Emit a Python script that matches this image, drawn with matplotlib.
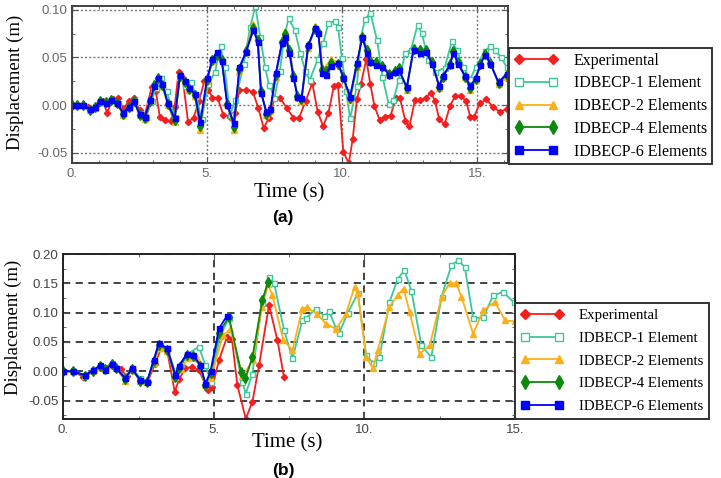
import matplotlib
matplotlib.use('Agg')
import matplotlib.pyplot as plt
from matplotlib.ticker import FixedLocator, MultipleLocator

# ---------------- panel (a) data ----------------
t_a_exp = [0, 0.2, 0.4, 0.6, 0.8, 1.0, 1.15, 1.3, 1.5, 1.7,
           1.9, 2.1, 2.3, 2.5, 2.7, 2.95, 3.1, 3.25, 3.45, 3.65,
           3.8, 3.95, 4.1, 4.3, 4.5, 4.7, 4.9, 5.05, 5.2, 5.4,
           5.6, 5.85, 6.05, 6.2, 6.45, 6.7, 6.9, 7.1, 7.3, 7.5,
           7.7, 7.95, 8.2, 8.4, 8.65, 8.9, 9.1, 9.3, 9.5, 9.7,
           9.85, 10.05, 10.25, 10.4, 10.55, 10.7, 10.9, 11.05, 11.2, 11.4,
           11.6, 11.8, 12.0, 12.15, 12.35, 12.5, 12.7, 12.9, 13.1, 13.3,
           13.45, 13.6, 13.8, 14.0, 14.2, 14.4, 14.6, 14.75, 14.9, 15.1,
           15.35, 15.6, 15.85, 16.1]
d_a_exp = [0, 0, 0, -0.002, -0.003, 0.002, 0.004, -0.008, 0.006, 0.007,
           -0.004, 0.004, 0.007, -0.005, -0.010, 0.019, 0.015, -0.012, -0.016, -0.017,
           -0.002, 0.035, 0.028, -0.018, -0.013, 0.004, 0.025, 0.016, 0.008, 0.007,
           -0.010, -0.012, -0.008, 0.016, 0.016, 0.014, -0.003, -0.024, -0.013, 0.007,
           0.008, -0.003, -0.013, -0.014, 0.004, 0.023, -0.007, -0.022, -0.008, 0.020,
           0.021, -0.049, -0.061, -0.035, 0.006, 0.022, 0.048, 0.022, -0.001, -0.016,
           -0.012, -0.011, 0.008, 0.007, -0.017, -0.022, 0.005, 0.005, 0.008, 0.013,
           0.004, -0.015, -0.020, -0.001, 0.010, 0.010, 0.004, -0.012, -0.012, 0.002,
           0.006, -0.002, -0.007, -0.004]

t_a_1el = [0, 0.2, 0.4, 0.65, 0.85, 1.05, 1.25, 1.45, 1.7, 1.9,
           2.1, 2.3, 2.5, 2.75, 2.95, 3.1, 3.3, 3.5, 3.8, 4.0,
           4.2, 4.4, 4.6, 4.8, 5.05, 5.3, 5.5, 5.65, 5.86, 6.05,
           6.36, 6.6, 6.79, 6.97, 7.15, 7.3, 7.5, 7.7, 7.85, 8.02,
           8.25, 8.45, 8.64, 8.8, 9.1, 9.3, 9.5, 9.75, 9.85, 10.0,
           10.15, 10.3, 10.55, 10.7, 10.85, 11.05, 11.3, 11.5, 11.73, 11.9,
           12.1, 12.35, 12.55, 12.8, 12.95, 13.2, 13.45, 13.8, 14.07, 14.25,
           14.5, 14.75, 14.95, 15.3, 15.5, 15.65, 15.9, 16.1]
d_a_1el = [0, 0, 0, -0.004, -0.002, 0.004, 0.003, 0.005, 0.002, -0.008,
           -0.002, 0.005, -0.008, -0.012, 0.004, 0.018, 0.028, 0.015, -0.012, 0.030,
           0.020, 0.024, 0.010, -0.015, 0.022, 0.035, 0.062, 0.040, -0.010, 0.005,
           0.043, 0.082, 0.104, 0.072, 0.040, 0.021, 0.008, 0.036, 0.070, 0.091,
           0.079, 0.055, 0.036, 0.026, 0.048, 0.065, 0.086, 0.088, 0.082, 0.049,
           0.015, -0.014, 0.020, 0.071, 0.090, 0.097, 0.068, 0.030, 0.001, 0.005,
           0.026, 0.055, 0.058, 0.084, 0.076, 0.047, 0.035, 0.039, 0.067, 0.058,
           0.040, 0.027, 0.040, 0.057, 0.062, 0.058, 0.050, 0.040]

t_a_mod = [0, 0.2, 0.4, 0.65, 0.85, 1.05, 1.25, 1.45, 1.65, 1.9,
           2.1, 2.3, 2.5, 2.7, 2.9, 3.05, 3.2, 3.35, 3.55, 3.8,
           4.0, 4.2, 4.35, 4.55, 4.75, 5.0, 5.2, 5.37, 5.55, 5.75,
           6.0, 6.2, 6.45, 6.72, 6.88, 7.0, 7.2, 7.35, 7.55, 7.78,
           7.9, 8.05, 8.2, 8.35, 8.5, 8.75, 9.0, 9.12, 9.27, 9.4,
           9.58, 9.85, 10.05, 10.3, 10.55, 10.75, 10.92, 11.05, 11.25, 11.5,
           11.75, 11.95, 12.1, 12.4, 12.65, 12.9, 13.1, 13.35, 13.6, 13.75,
           14.0, 14.13, 14.3, 14.55, 14.75, 14.95, 15.12, 15.3, 15.5, 15.8,
           16.1]
d_a_2el = [0, 0, 0, -0.005, -0.003, 0.004, 0.003, 0.006, 0.002, -0.010,
           -0.003, 0.004, -0.010, -0.015, 0.004, 0.020, 0.027, 0.020, 0.0, -0.018,
           0.030, 0.024, 0.016, 0.010, -0.026, 0.025, 0.046, 0.055, 0.048, 0.002,
           -0.026, 0.036, 0.058, 0.085, 0.070, 0.016, -0.010, -0.006, 0.030, 0.068,
           0.078, 0.060, 0.034, 0.010, 0.004, 0.060, 0.083, 0.078, 0.040, 0.040,
           0.048, 0.045, 0.030, 0.005, 0.040, 0.074, 0.060, 0.048, 0.046, 0.042,
           0.034, 0.036, 0.040, 0.016, 0.058, 0.060, 0.058, 0.046, 0.018, 0.028,
           0.044, 0.058, 0.046, 0.030, 0.016, 0.026, 0.044, 0.055, 0.045, 0.022,
           0.030]
d_a_4el = [0, 0, 0, -0.005, -0.002, 0.004, 0.003, 0.005, 0.002, -0.009,
           -0.002, 0.004, -0.010, -0.014, 0.004, 0.021, 0.028, 0.021, 0.001, -0.016,
           0.031, 0.024, 0.017, 0.011, -0.022, 0.026, 0.047, 0.053, 0.047, 0.001,
           -0.023, 0.038, 0.057, 0.081, 0.068, 0.015, -0.009, -0.005, 0.032, 0.066,
           0.075, 0.058, 0.031, 0.010, 0.006, 0.062, 0.080, 0.077, 0.037, 0.036,
           0.044, 0.043, 0.030, 0.007, 0.042, 0.072, 0.058, 0.046, 0.045, 0.041,
           0.033, 0.036, 0.039, 0.018, 0.059, 0.058, 0.058, 0.045, 0.019, 0.030,
           0.043, 0.057, 0.045, 0.030, 0.018, 0.027, 0.043, 0.054, 0.044, 0.023,
           0.032]
d_a_6el = [0, 0, 0, -0.004, -0.002, 0.004, 0.002, 0.005, 0.002, -0.008,
           -0.002, 0.004, -0.009, -0.012, 0.005, 0.020, 0.028, 0.022, 0.002, -0.014,
           0.032, 0.025, 0.018, 0.012, -0.018, 0.028, 0.048, 0.056, 0.046, 0.0,
           -0.019, 0.040, 0.056, 0.079, 0.066, 0.013, -0.007, -0.004, 0.034, 0.065,
           0.072, 0.055, 0.029, 0.009, 0.007, 0.063, 0.081, 0.076, 0.034, 0.032,
           0.041, 0.044, 0.029, 0.009, 0.044, 0.071, 0.055, 0.045, 0.042, 0.040,
           0.032, 0.035, 0.037, 0.019, 0.058, 0.055, 0.056, 0.043, 0.020, 0.031,
           0.042, 0.055, 0.043, 0.031, 0.020, 0.028, 0.042, 0.053, 0.043, 0.024,
           0.033]

# ---------------- panel (b) data ----------------
t_b_exp = [0, 0.3, 0.65, 1.0, 1.3, 1.6, 1.9, 2.1, 2.3, 2.55,
           2.8, 3.05, 3.25, 3.45, 3.7, 3.85, 4.05, 4.28, 4.5, 4.8,
           4.95, 5.17, 5.44, 5.6, 5.78, 6.06, 6.28, 6.5, 6.83, 7.11,
           7.33]
d_b_exp = [0, 0, -0.009, 0.0, 0.007, 0.010, 0.004, -0.008, 0.002, -0.015,
           -0.018, 0.013, 0.040, 0.035, -0.035, -0.013, 0.005, 0.007, 0.002, -0.032,
           -0.027, 0.019, 0.059, 0.055, -0.024, -0.081, -0.052, 0.010, 0.113, 0.053,
           -0.010]

t_b_1el = [0, 0.33, 0.72, 1.0, 1.22, 1.4, 1.61, 1.75, 2.06, 2.28,
           2.55, 2.78, 3.0, 3.2, 3.45, 3.72, 3.9, 4.15, 4.5, 4.72,
           4.9, 5.2, 5.5, 5.94, 6.06, 6.28, 6.6, 6.83, 7.0, 7.33,
           7.61, 7.94, 8.06, 8.39, 8.67, 8.83, 9.06, 9.17, 9.45, 9.78,
           10.06, 10.3, 10.5, 10.83, 11.11, 11.33, 11.56, 11.89, 12.22, 12.56,
           12.89, 13.11, 13.33, 13.61, 13.95, 14.28, 14.61, 14.95]
d_b_1el = [0, 0, -0.006, 0.002, 0.008, 0.004, 0.014, 0.006, -0.010, 0.006,
           -0.012, -0.016, 0.015, 0.045, 0.040, -0.003, 0.012, 0.030, 0.042, 0.010,
           -0.018, 0.060, 0.090, -0.018, -0.038, -0.004, 0.116, 0.161, 0.150, 0.070,
           0.022, 0.087, 0.090, 0.107, 0.094, 0.102, 0.073, 0.066, 0.100, 0.133,
           0.027, 0.014, 0.024, 0.118, 0.158, 0.172, 0.137, 0.044, 0.024, 0.127,
           0.181, 0.189, 0.178, 0.090, 0.092, 0.130, 0.135, 0.118]

t_b_2el = [0, 0.33, 0.72, 1.0, 1.22, 1.4, 1.61, 1.75, 2.06, 2.28,
           2.55, 2.78, 3.0, 3.2, 3.45, 3.72, 3.9, 4.15, 4.45, 4.72,
           4.9, 5.3, 5.55, 5.95, 6.3, 6.6, 6.8, 6.94, 7.3, 7.61,
           7.94, 8.1, 8.44, 8.72, 9.06, 9.39, 9.67, 9.78, 10.06, 10.28,
           10.44, 10.83, 11.11, 11.3, 11.5, 11.83, 12.17, 12.56, 12.83, 13.05,
           13.22, 13.61, 13.95, 14.33, 14.67, 15.0]
d_b_2el = [0, 0, -0.008, 0.001, 0.008, 0.003, 0.011, 0.005, -0.017, 0.003,
           -0.017, -0.019, 0.014, 0.040, 0.034, -0.010, 0.004, 0.022, 0.022, -0.024,
           -0.012, 0.061, 0.072, -0.008, 0.019, 0.110, 0.148, 0.130, 0.054, 0.036,
           0.107, 0.109, 0.097, 0.081, 0.072, 0.098, 0.144, 0.133, 0.024, 0.005,
           0.036, 0.110, 0.130, 0.141, 0.101, 0.030, 0.044, 0.127, 0.150, 0.150,
           0.127, 0.064, 0.104, 0.118, 0.087, 0.085]

t_b_4el = [0, 0.33, 0.72, 1.0, 1.22, 1.4, 1.61, 1.75, 2.06, 2.28,
           2.55, 2.78, 3.0, 3.17, 3.45, 3.72, 3.83, 4.11, 4.3, 4.55,
           4.72, 4.89, 5.17, 5.5, 5.9, 6.05, 6.28, 6.61, 6.8]
d_b_4el = [0, 0, -0.008, 0.001, 0.009, 0.003, 0.012, 0.006, -0.013, 0.004,
           -0.016, -0.019, 0.017, 0.045, 0.037, -0.009, 0.006, 0.027, 0.026, 0.009,
           -0.023, -0.003, 0.065, 0.093, -0.001, -0.012, 0.024, 0.121, 0.152]

t_b_6el = [0, 0.33, 0.72, 1.0, 1.22, 1.4, 1.61, 1.75, 2.06, 2.28,
           2.55, 2.78, 3.0, 3.17, 3.45, 3.72, 3.83, 4.11, 4.3, 4.55,
           4.72, 4.89, 5.17, 5.44]
d_b_6el = [0, 0, -0.007, 0.002, 0.010, 0.002, 0.013, 0.005, -0.012, 0.005,
           -0.015, -0.018, 0.019, 0.048, 0.039, -0.007, 0.009, 0.030, 0.028, 0.011,
           -0.021, 0.0, 0.073, 0.095]

labels = ['Experimental', 'IDBECP-1 Element', 'IDBECP-2 Elements',
          'IDBECP-4 Elements', 'IDBECP-6 Elements']
yticks_a = [-0.05, 0.0, 0.05, 0.10]
yticks_b = [-0.05, 0.0, 0.05, 0.10, 0.15, 0.20]
xticks = [0, 5, 10, 15]
xticklabels = ['0.', '5.', '10.', '15.']

styles = [
    dict(color='#f41e1e', marker='D', ms=3.2, mfc='#f41e1e'),
    dict(color='#3cc89a', marker='s', ms=3.6, mfc='white'),
    dict(color='#fbb01a', marker='^', ms=4.0, mfc='#fbb01a'),
    dict(color='#0a8a0a', marker='d', ms=4.8, mfc='#0a8a0a'),
    dict(color='#0000ff', marker='s', ms=3.6, mfc='#0000ff'),
]

serif = 'Liberation Serif'
fig = plt.figure(figsize=(7.21, 4.78), dpi=100)


def setup(ax, ylim, xmax, yticks, gridkw, tickcol, xminor):
    ax.set_xlim(0, xmax)
    ax.set_ylim(*ylim)
    ax.xaxis.set_major_locator(FixedLocator(xticks))
    ax.set_xticklabels(xticklabels)
    ax.yaxis.set_major_locator(FixedLocator(yticks))
    ax.set_yticklabels(['%.2f' % v for v in yticks])
    ax.xaxis.set_minor_locator(MultipleLocator(xminor))
    ax.yaxis.set_minor_locator(MultipleLocator(0.025))
    ax.tick_params(which='both', direction='in', top=True, right=True,
                   colors='#555555', labelcolor=tickcol, labelsize=9.5)
    ax.tick_params(which='major', length=4)
    ax.tick_params(which='minor', length=2.5)
    for lab in ax.get_xticklabels() + ax.get_yticklabels():
        lab.set_family('Liberation Sans')
    ax.grid(True, which='major', **gridkw)
    for s in ax.spines.values():
        s.set_linewidth(1.4)
        s.set_color('#404040')


def draw(ax, series):
    hs = []
    for (t, d), st in zip(series, styles):
        h, = ax.plot(t, d, lw=1.3, mew=1.0, mec=st['color'], clip_on=True, **st)
        hs.append(h)
    return hs


# panel (a)
ax1 = fig.add_axes([0.0999, 0.6584, 0.6047, 0.3290])
hs = draw(ax1, [(t_a_exp, d_a_exp), (t_a_1el, d_a_1el), (t_a_mod, d_a_2el),
                (t_a_mod, d_a_4el), (t_a_mod, d_a_6el)])
setup(ax1, (-0.061, 0.104), 16.15, yticks_a,
      dict(color='#777777', ls=(0, (1.5, 1.5)), lw=1.0), '#666666', 1)
leg = ax1.legend(hs, labels, loc='upper left', bbox_to_anchor=(0.706, 0.8996),
                 bbox_transform=fig.transFigure, borderaxespad=0, numpoints=2,
                 prop={'family': serif, 'size': 11.5}, handlelength=2.75,
                 handletextpad=1.0, labelspacing=0.42, borderpad=0.3,
                 markerscale=1.5, fancybox=False, framealpha=1)
leg.get_frame().set_edgecolor('#333333')
leg.get_frame().set_linewidth(1.4)

# panel (b)
ax2 = fig.add_axes([0.0878, 0.1228, 0.6265, 0.3458])
hs = draw(ax2, [(t_b_exp, d_b_exp), (t_b_1el, d_b_1el), (t_b_2el, d_b_2el),
                (t_b_4el, d_b_4el), (t_b_6el, d_b_6el)])
setup(ax2, (-0.082, 0.20), 15.0, yticks_b,
      dict(color='#333333', ls=(0, (4, 3)), lw=1.3), '#444444', 2.5)
for s in ax2.spines.values():
    s.set_color('#222222')
leg = ax2.legend(hs, labels, loc='upper left', bbox_to_anchor=(0.714, 0.366),
                 bbox_transform=fig.transFigure, borderaxespad=0, numpoints=2,
                 prop={'family': serif, 'size': 10.7}, handlelength=2.9,
                 handletextpad=1.0, labelspacing=0.62, borderpad=0.4,
                 markerscale=1.5, fancybox=False, framealpha=1)
leg.get_frame().set_edgecolor('#333333')
leg.get_frame().set_linewidth(1.4)

# labels
fig.text(0.0208, 0.8274, 'Displacement (m)', rotation=90, ha='center', va='center',
         family=serif, fontsize=13.5)
fig.text(0.0180, 0.3149, 'Displacement (m)', rotation=90, ha='center', va='center',
         family=serif, fontsize=13.5)
fig.text(0.4008, 0.5962, 'Time (s)', ha='center', va='center', family=serif, fontsize=15)
fig.text(0.3990, 0.0732, 'Time (s)', ha='center', va='center', family=serif, fontsize=15)
fig.text(0.3925, 0.546, '(a)', ha='center', va='center', family='Liberation Sans',
         fontweight='bold', fontsize=12.5)
fig.text(0.3925, 0.0167, '(b)', ha='center', va='center', family='Liberation Sans',
         fontweight='bold', fontsize=12.5)

fig.savefig('out.png', dpi=100)
